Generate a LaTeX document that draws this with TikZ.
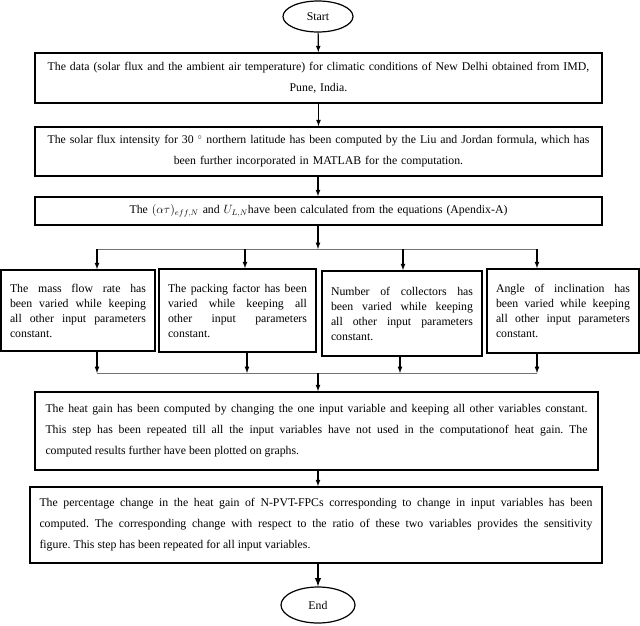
\documentclass[tikz,border=0pt]{standalone}
\usepackage{fontspec}
\setmainfont{Liberation Serif}
\usetikzlibrary{shapes.geometric}
\frenchspacing

\begin{document}
\begin{tikzpicture}[x=1pt,y=-1pt,
  box/.style={draw,line width=1.6pt,inner ysep=0pt,font=\fontsize{11.8}{21}\selectfont},
  wide/.style={box,align=center},
  para/.style={box,align=justify},
  small/.style={draw,line width=1.6pt,inner xsep=9pt,inner ysep=0pt,align=justify,font=\fontsize{11.8}{15}\selectfont},
  term/.style={draw,ellipse,line width=1.2pt,inner sep=0pt,font=\fontsize{11.8}{14}\selectfont},
  flow/.style={-latex,line width=1.2pt},
  rail/.style={line width=1pt,black!55}]
\useasboundingbox (0,0) rectangle (640,625);
\node[term,minimum width=70pt,minimum height=31pt] (start) at (318,16.5) {Start};
\node[wide,text width=551pt,inner xsep=8pt,minimum height=50pt] (data) at (318.5,78)
  {The data (solar flux and the ambient air temperature) for climatic conditions of New Delhi obtained from IMD,\\Pune, India.};
\node[wide,text width=551pt,inner xsep=8pt,minimum height=49pt] (flux) at (318.5,151.5)
  {The solar flux intensity for 30 $^{\circ}$ northern latitude has been computed by the Liu and Jordan formula, which has\\been further incorporated in MATLAB for the computation.};
\node[wide,text width=551pt,inner xsep=8pt,minimum height=28pt] (coef) at (318.5,211)
  {The $(\alpha\tau)_{eff,N}$ and $U_{L,N}$have been calculated from the equations (Apendix-A)};
\node[small,text width=136pt,minimum height=81pt] (mass) at (78,310.5)
  {The mass flow rate has\linebreak been varied while keeping\linebreak all other input parameters\linebreak constant.};
\node[small,text width=139pt,minimum height=83pt] (pack) at (237.5,310.5)
  {The packing factor has been\linebreak varied while keeping all\linebreak other input parameters\linebreak constant.};
\node[small,text width=142pt,minimum height=85pt] (coll) at (402,313.5)
  {Number of collectors has\linebreak been varied while keeping\linebreak all other input parameters\linebreak constant.};
\node[small,text width=134pt,minimum height=84pt] (incl) at (563,311)
  {Angle of inclination has\linebreak been varied while keeping\linebreak all other input parameters\linebreak constant.};
\node[para,text width=542pt,inner xsep=10.5pt,minimum height=78pt] (heat) at (316.5,431)
  {The heat gain has been computed by changing the one input variable and keeping all other variables constant.\linebreak
   This step has been repeated till all the input variables have not used in the computationof\enspace heat gain. The\linebreak
   computed results further have been plotted on graphs.};
\node[para,text width=553pt,inner xsep=9.5pt,minimum height=76pt] (sens) at (316,525)
  {The percentage change in the heat gain of N-PVT-FPCs corresponding to change in input variables has been\linebreak
   computed. The corresponding change with respect to the ratio of these two variables provides the sensitivity\linebreak
   figure. This step has been repeated for all input variables.};
\node[term,minimum width=74pt,minimum height=36pt] (stop) at (318,605) {End};
\coordinate (split) at (318,249);
\coordinate (merge) at (318,373);
\draw[flow] (start) -- (data);
\draw[flow] (data) -- (flux);
\draw[flow] (flux.south -| start) -- (coef.north -| start);
\draw[flow] (coef.south -| start) -- (split);
\draw[rail] (97,249) -- (537,249);
\draw[flow] (97,249) -- (97,0 |- mass.north);
\draw[flow] (245,249) -- (245,0 |- pack.north);
\draw[flow] (403,249) -- (403,0 |- coll.north);
\draw[flow] (537,249) -- (537,0 |- incl.north);
\draw[flow] (97,0 |- mass.south) -- (97,373);
\draw[flow] (247,0 |- pack.south) -- (247,373);
\draw[flow] (400,0 |- coll.south) -- (400,373);
\draw[flow] (537,0 |- incl.south) -- (537,373);
\draw[rail] (97,373) -- (537,373);
\draw[flow] (merge) -- (merge |- heat.north);
\draw[flow] (heat.south -| start) -- (sens.north -| start);
\draw[flow,line width=1.8pt] (sens.south -| start) -- (stop);
\end{tikzpicture}
\end{document}
